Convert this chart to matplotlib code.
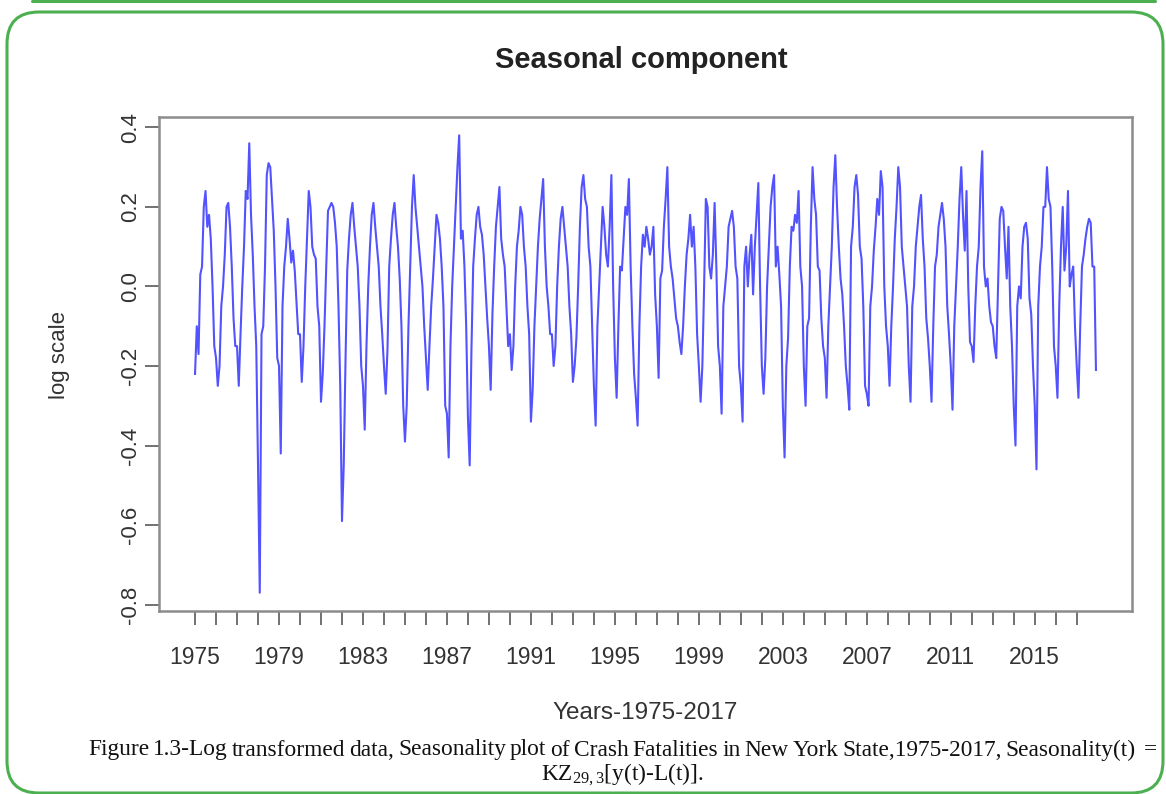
import numpy as np
import matplotlib
matplotlib.use("Agg")
import matplotlib.pyplot as plt
from matplotlib.patches import FancyBboxPatch

# ---------------- data (monthly seasonal component, log scale) ----------------
start_year = 1975
seasonal_1975_1979 = [
    -0.22, -0.10, -0.17, 0.03, 0.05, 0.20, 0.24, 0.15, 0.18, 0.12, 0.00, -0.15,
    -0.18, -0.25, -0.20, -0.05, 0.00, 0.08, 0.20, 0.21, 0.15, 0.05, -0.08, -0.15,
    -0.15, -0.25, -0.12, 0.00, 0.10, 0.24, 0.22, 0.36, 0.18, 0.08, -0.05, -0.15,
    -0.45, -0.77, -0.12, -0.10, 0.05, 0.28, 0.31, 0.30, 0.22, 0.14, 0.00, -0.18,
    -0.20, -0.42, -0.05, 0.05, 0.10, 0.17, 0.12, 0.06, 0.09, 0.04, -0.04, -0.12,
]
seasonal_1980_1984 = [
    -0.12, -0.24, -0.15, 0.00, 0.12, 0.24, 0.20, 0.10, 0.08, 0.07, -0.05, -0.10,
    -0.29, -0.22, -0.10, 0.05, 0.19, 0.20, 0.21, 0.20, 0.16, 0.10, -0.05, -0.25,
    -0.59, -0.45, -0.19, 0.04, 0.12, 0.18, 0.21, 0.15, 0.10, 0.05, -0.05, -0.20,
    -0.25, -0.36, -0.15, 0.00, 0.10, 0.18, 0.21, 0.15, 0.10, 0.05, -0.05, -0.12,
    -0.20, -0.27, -0.16, 0.05, 0.12, 0.18, 0.21, 0.15, 0.10, 0.02, -0.10, -0.30,
]
seasonal_1985_1989 = [
    -0.39, -0.30, -0.10, 0.05, 0.20, 0.28, 0.20, 0.15, 0.10, 0.05, 0.00, -0.10,
    -0.18, -0.26, -0.15, -0.05, 0.02, 0.10, 0.18, 0.16, 0.12, 0.05, -0.05, -0.30,
    -0.32, -0.43, -0.15, 0.00, 0.10, 0.20, 0.30, 0.38, 0.12, 0.14, 0.05, -0.10,
    -0.33, -0.45, -0.16, 0.05, 0.12, 0.18, 0.20, 0.15, 0.13, 0.08, 0.00, -0.08,
    -0.15, -0.26, -0.07, 0.05, 0.15, 0.20, 0.25, 0.12, 0.08, 0.05, -0.05, -0.15,
]
seasonal_1990_1994 = [
    -0.12, -0.21, -0.15, 0.00, 0.10, 0.14, 0.20, 0.18, 0.10, 0.05, -0.05, -0.12,
    -0.34, -0.26, -0.10, 0.00, 0.10, 0.17, 0.22, 0.27, 0.10, 0.00, -0.05, -0.12,
    -0.12, -0.20, -0.15, 0.00, 0.10, 0.17, 0.20, 0.15, 0.10, 0.05, -0.05, -0.12,
    -0.24, -0.20, -0.13, 0.00, 0.15, 0.25, 0.28, 0.22, 0.20, 0.10, 0.05, -0.10,
    -0.25, -0.35, -0.10, 0.00, 0.10, 0.20, 0.15, 0.08, 0.05, 0.15, 0.28, 0.00,
]
seasonal_1995_1999 = [
    -0.18, -0.28, -0.10, 0.05, 0.04, 0.12, 0.20, 0.18, 0.27, 0.05, -0.10, -0.22,
    -0.28, -0.35, -0.10, 0.05, 0.13, 0.10, 0.15, 0.12, 0.08, 0.10, 0.15, -0.02,
    -0.10, -0.23, 0.02, 0.04, 0.15, 0.22, 0.30, 0.10, 0.05, 0.02, -0.03, -0.08,
    -0.10, -0.14, -0.17, -0.10, 0.00, 0.08, 0.12, 0.18, 0.10, 0.15, 0.05, -0.12,
    -0.20, -0.29, -0.20, 0.00, 0.22, 0.20, 0.05, 0.02, 0.08, 0.21, 0.05, -0.15,
]
seasonal_2000_2004 = [
    -0.20, -0.32, -0.05, 0.00, 0.05, 0.15, 0.17, 0.19, 0.15, 0.05, 0.02, -0.20,
    -0.25, -0.34, 0.05, 0.10, 0.00, 0.08, 0.13, -0.02, 0.10, 0.18, 0.26, 0.00,
    -0.20, -0.27, -0.18, 0.00, 0.10, 0.20, 0.25, 0.28, 0.05, 0.10, 0.03, -0.05,
    -0.30, -0.43, -0.20, -0.13, 0.05, 0.15, 0.14, 0.18, 0.16, 0.24, 0.05, 0.00,
    -0.20, -0.30, -0.10, -0.08, 0.15, 0.30, 0.22, 0.18, 0.05, 0.04, -0.08, -0.15,
]
seasonal_2005_2009 = [
    -0.18, -0.28, -0.10, 0.00, 0.10, 0.25, 0.33, 0.20, 0.10, 0.02, -0.02, -0.10,
    -0.20, -0.25, -0.31, 0.10, 0.15, 0.25, 0.28, 0.23, 0.10, 0.07, -0.05, -0.25,
    -0.27, -0.30, -0.05, 0.00, 0.09, 0.15, 0.22, 0.18, 0.29, 0.25, 0.00, -0.10,
    -0.15, -0.25, -0.10, 0.00, 0.12, 0.20, 0.30, 0.25, 0.10, 0.05, 0.00, -0.05,
    -0.20, -0.29, -0.05, 0.00, 0.10, 0.15, 0.20, 0.23, 0.12, 0.05, -0.08, -0.13,
]
seasonal_2010_2014 = [
    -0.20, -0.29, -0.10, 0.05, 0.08, 0.15, 0.18, 0.21, 0.17, 0.10, -0.05, -0.12,
    -0.20, -0.31, -0.10, 0.00, 0.10, 0.22, 0.30, 0.18, 0.09, 0.24, 0.00, -0.14,
    -0.15, -0.19, -0.05, 0.05, 0.10, 0.25, 0.34, 0.05, 0.00, 0.02, -0.05, -0.09,
    -0.10, -0.15, -0.18, 0.00, 0.17, 0.20, 0.19, 0.10, 0.02, 0.15, -0.05, -0.15,
    -0.30, -0.40, -0.05, 0.00, -0.03, 0.10, 0.15, 0.16, 0.12, -0.03, -0.07, -0.20,
]
seasonal_2015_2017 = [
    -0.30, -0.46, -0.05, 0.05, 0.10, 0.20, 0.20, 0.30, 0.22, 0.20, 0.05, -0.15,
    -0.20, -0.28, -0.05, 0.10, 0.20, 0.04, 0.10, 0.24, 0.00, 0.03, 0.05, -0.10,
    -0.20, -0.28, -0.10, 0.05, 0.08, 0.12, 0.15, 0.17, 0.16, 0.05, 0.05, -0.21,
]
y_ticks = [-0.8, -0.6, -0.4, -0.2, 0.0, 0.2, 0.4]
y_tick_labels = ["-0.8", "-0.6", "-0.4", "-0.2", "0.0", "0.2", "0.4"]
x_tick_years = list(range(1975, 2018))
x_label_years = list(range(1975, 2016, 4))

title = "Seasonal component"
x_label = "Years-1975-2017"
y_label = "log scale"
caption1 = ("Figure 1.3-Log transformed data, Seasonality plot of Crash Fatalities "
            "in New York State,1975-2017, Seasonality(t)  =")

values = np.array(seasonal_1975_1979 + seasonal_1980_1984 + seasonal_1985_1989 +
                  seasonal_1990_1994 + seasonal_1995_1999 + seasonal_2000_2004 +
                  seasonal_2005_2009 + seasonal_2010_2014 + seasonal_2015_2017)
t = start_year + np.arange(len(values)) / 12.0

# ---------------- figure ----------------
W, H = 1166, 794
fig = plt.figure(figsize=(W / 100, H / 100), dpi=100)
fig.patch.set_facecolor("white")

bg = fig.add_axes([0, 0, 1, 1], zorder=0)
bg.set_xlim(0, W)
bg.set_ylim(H, 0)
bg.axis("off")

green = "#4CAF50"
bg.plot([32, 1155], [1.2, 1.2], color=green, lw=2.2, solid_capstyle="round")
bg.add_patch(FancyBboxPatch((7, 12), 1156, 781,
                            boxstyle="round,pad=0,rounding_size=32",
                            fill=False, ec=green, lw=2.2))

# plot axes in pixel positions
L, R, T, B = 159, 1132, 117, 611
ax = fig.add_axes([L / W, 1 - B / H, (R - L) / W, (B - T) / H], zorder=1)

ax.plot(t, values, color=(0, 0, 1), lw=1.5, alpha=0.68)

xr = t[-1] - t[0]
ax.set_xlim(t[0] - 0.04 * xr, t[-1] + 0.04 * xr)
yr = values.max() - values.min()
ax.set_ylim(values.min() - 0.04 * yr, values.max() + 0.04 * yr)

tick_col = "#333333"
ax.set_xticks(x_tick_years,
              labels=[str(y) if y in x_label_years else "" for y in x_tick_years])
ax.set_yticks(y_ticks, labels=y_tick_labels)
ax.tick_params(axis="x", direction="out", length=10, width=1.3, color="#666666",
               labelsize=16.5, labelcolor=tick_col, pad=15)
ax.tick_params(axis="y", direction="out", length=10, width=1.3, color="#666666",
               labelsize=16, labelcolor=tick_col, pad=3)
for lab in ax.get_yticklabels():
    lab.set_rotation(90)
    lab.set_va("center")
for sp in ax.spines.values():
    sp.set_color("#8c8c8c")
    sp.set_linewidth(1.8)

sans = ["Liberation Sans", "DejaVu Sans"]
for lab in ax.get_xticklabels() + ax.get_yticklabels():
    lab.set_family(sans)

bg.text(641, 60, title, ha="center", va="center", fontsize=21,
        fontweight="bold", family=sans, color="#222222")
bg.text(645, 713, x_label, ha="center", va="center", fontsize=17.5,
        family=sans, color=tick_col)
bg.text(60, 355, y_label, ha="center", va="center", fontsize=16,
        rotation=90, family=sans, color=tick_col)

# caption, justified line 1 (empty tokens from double spaces count as extra gaps)
serif = ["Liberation Serif", "DejaVu Serif"]
fig.canvas.draw()
rend = fig.canvas.get_renderer()
tokens = caption1.split(" ")
fs = 16.8
widths = []
for w in tokens:
    if w:
        tt = bg.text(0, 0, w, fontsize=fs, family=serif)
        widths.append(tt.get_window_extent(rend).width)
        tt.remove()
    else:
        widths.append(0.0)
target = 1157 - 88
gap = (target - sum(widths)) / (len(tokens) - 1)
x = 88
for w, wd in zip(tokens, widths):
    if w:
        bg.text(x, 750, w, fontsize=fs, family=serif, va="center", ha="left",
                color="#111111")
    x += wd + gap

plt.rcParams["mathtext.fontset"] = "custom"
plt.rcParams["mathtext.rm"] = "Liberation Serif"
plt.rcParams["mathtext.it"] = "Liberation Serif:italic"
bg.text(622, 775, r"KZ$_{\mathregular{29,3}}$[y(t)-L(t)].", fontsize=fs,
        family=serif, ha="center", va="center", color="#111111")

fig.savefig("out.png", dpi=100, facecolor="white")
